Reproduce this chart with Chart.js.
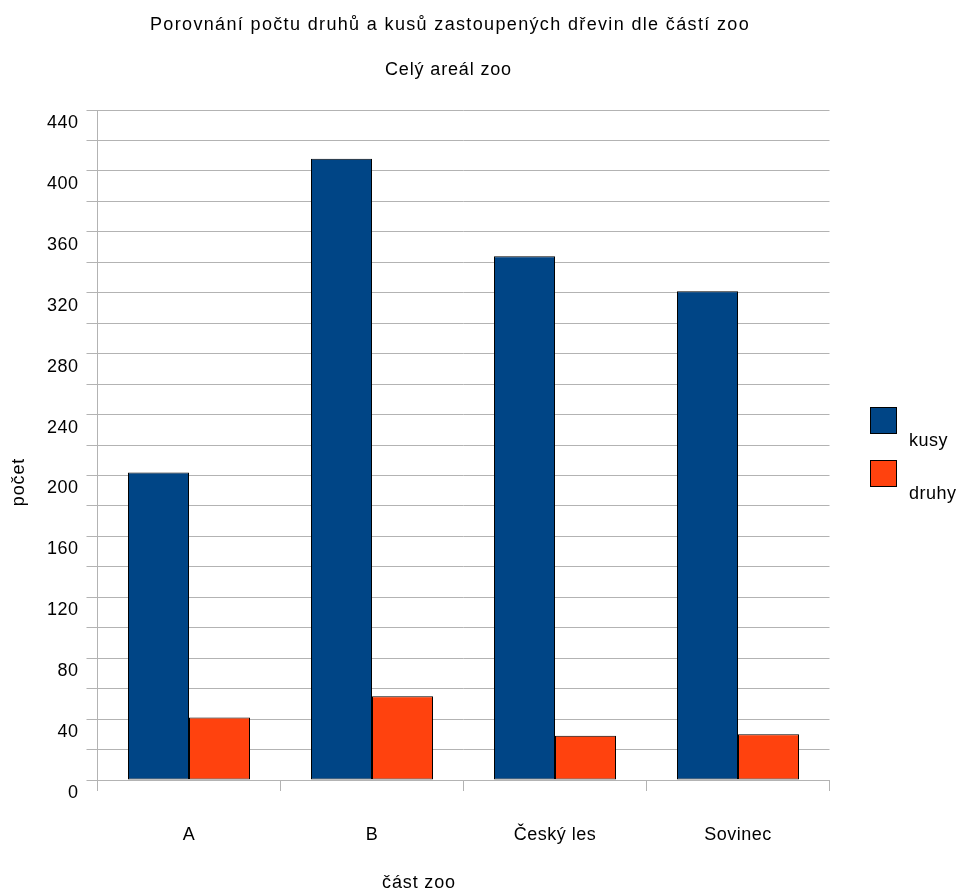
<!DOCTYPE html>
<html>
<head>
<meta charset="utf-8">
<script src="https://cdn.jsdelivr.net/npm/chart.js@4/dist/chart.umd.min.js"></script>
<style>
  html, body { margin: 0; padding: 0; background: #ffffff; }
  #wrap { width: 964px; height: 894px; }
</style>
</head>
<body>
<div id="wrap"><canvas id="c" width="964" height="894"></canvas></div>
<script>
// Parts of the zoo
const categories = ['A', 'B', 'Český les', 'Sovinec'];
// Number of trees (pieces) per part
const kusy = [202, 408, 344, 321];
// Number of tree species per part
const druhy = [41, 55, 29, 30];
const seriesNames = ['kusy', 'druhy'];
const seriesColors = ['#004586', '#ff420e'];

const titleText = 'Porovnání počtu druhů a kusů zastoupených dřevin dle částí zoo';
const subtitleText = 'Celý areál zoo';
const xTitle = 'část zoo';
const yTitle = 'počet';

const FONT = '"Liberation Sans", Arial, sans-serif';
const GRID = '#b3b3b3';

// Slightly loose letter spacing for all canvas text
const spacing = {
  id: 'spacing',
  beforeDraw(chart) {
    chart.ctx.letterSpacing = '0.5px';
  }
};

// Titles, axis titles and the legend, laid out in the LibreOffice style
const decorations = {
  id: 'decorations',
  afterDraw(chart) {
    const ctx = chart.ctx;
    ctx.save();
    ctx.fillStyle = '#000000';
    ctx.font = '18px ' + FONT;
    ctx.textBaseline = 'middle';
    ctx.textAlign = 'center';
    ctx.letterSpacing = '1.35px';
    ctx.fillText(titleText, 450, 25);
    ctx.letterSpacing = '0.85px';
    ctx.fillText(subtitleText, 448.5, 70);
    ctx.fillText(xTitle, 419, 883);

    ctx.save();
    ctx.translate(19, 482);
    ctx.rotate(-Math.PI / 2);
    ctx.fillText(yTitle, 0, 0);
    ctx.restore();

    // legend entries
    ctx.letterSpacing = '0.5px';
    ctx.textAlign = 'left';
    chart.data.datasets.forEach((ds, i) => {
      const by = 407.5 + i * 53;
      ctx.fillStyle = ds.backgroundColor;
      ctx.fillRect(870.5, by, 26, 26);
      ctx.strokeStyle = '#000000';
      ctx.lineWidth = 1;
      ctx.strokeRect(870.5, by, 26, 26);
      ctx.fillStyle = '#000000';
      ctx.fillText(ds.label, 909, by + 34);
    });
    ctx.restore();
  }
};

const barStyle = {
  categoryPercentage: 122 / 183,
  barPercentage: 1,
  borderColor: '#000000',
  borderWidth: 1,
  borderSkipped: false
};

new Chart(document.getElementById('c'), {
  type: 'bar',
  data: {
    labels: categories,
    datasets: [
      Object.assign({ label: seriesNames[0], data: kusy, backgroundColor: seriesColors[0] }, barStyle),
      Object.assign({ label: seriesNames[1], data: druhy, backgroundColor: seriesColors[1] }, barStyle)
    ]
  },
  options: {
    responsive: false,
    animation: false,
    devicePixelRatio: 1,
    layout: { padding: { top: 110, right: 134.5, bottom: 0, left: 0.5 } },
    plugins: {
      legend: { display: false },
      title: { display: false },
      tooltip: { enabled: false }
    },
    scales: {
      x: {
        afterFit(s) { s.height = 114; },
        grid: {
          offset: true,
          drawOnChartArea: true,
          color: (c) => (c.index === 0 || c.index === categories.length) ? GRID : 'rgba(0,0,0,0)',
          tickColor: GRID,
          tickLength: 11,
          lineWidth: 1
        },
        border: { display: true, color: GRID },
        ticks: {
          color: '#000000',
          font: { family: FONT, size: 18 },
          padding: 33,
          maxRotation: 0,
          autoSkip: false
        }
      },
      y: {
        min: 0,
        max: 440,
        afterFit(s) { s.width = 97; },
        grid: { color: GRID, tickLength: 11, lineWidth: 1 },
        border: { display: true, color: GRID },
        ticks: {
          stepSize: 20,
          color: '#000000',
          font: { family: FONT, size: 18 },
          padding: 8,
          labelOffset: 13,
          callback: (v) => (v % 40 === 0 ? String(v) : '')
        }
      }
    }
  },
  plugins: [spacing, decorations]
});
</script>
</body>
</html>
